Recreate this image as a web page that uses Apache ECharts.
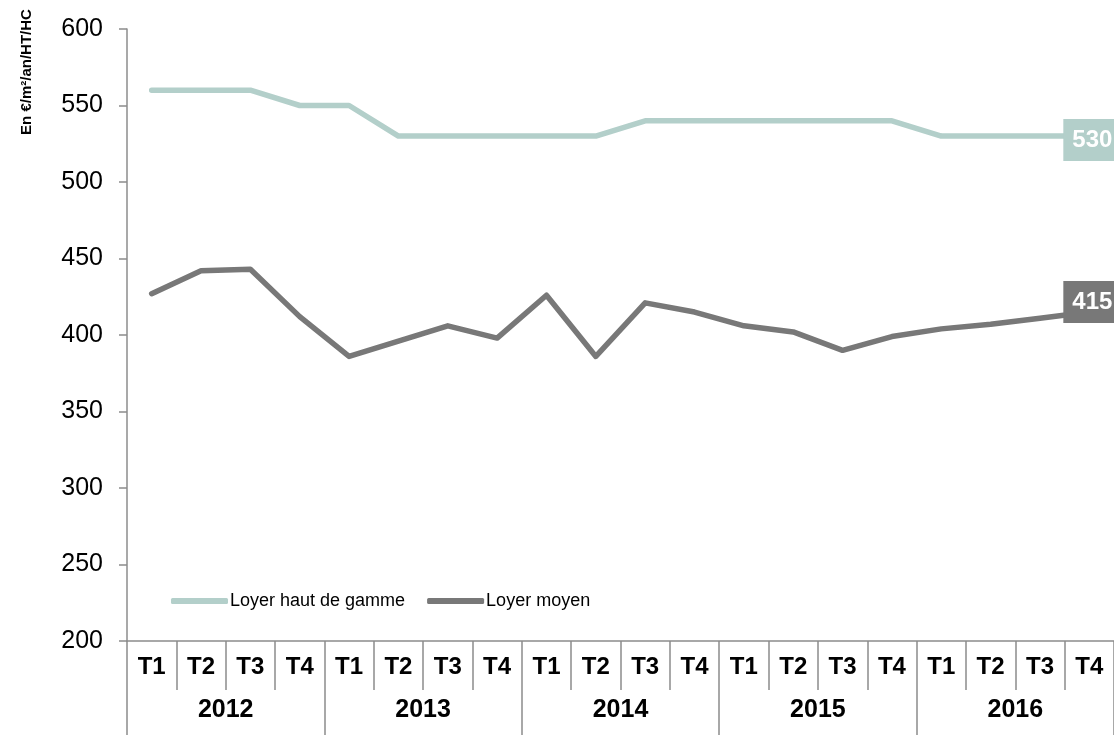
<!DOCTYPE html>
<html>
<head>
<meta charset="utf-8">
<script src="https://cdn.jsdelivr.net/npm/echarts@6/dist/echarts.min.js"></script>
<style>
  html, body { margin: 0; padding: 0; background: #fff; }
  #chart { width: 1114px; height: 735px; }
</style>
</head>
<body>
<div id="chart"></div>
<script>
// Quarterly office rents, 2012–2016
const quarters = ['T1', 'T2', 'T3', 'T4'];
const years = ['2012', '2013', '2014', '2015', '2016'];
const quarterLabels = years.flatMap(() => quarters);

const loyerHautDeGamme = [560, 560, 560, 550, 550, 530, 530, 530, 530, 530,
                          540, 540, 540, 540, 540, 540, 530, 530, 530, 530];
const loyerMoyen = [427, 442, 443, 412, 386, 396, 406, 398, 426, 386,
                    421, 415, 406, 402, 390, 399, 404, 407, 411, 415];

const yTicks = { min: 200, max: 600, step: 50 };

const FONT = "'Liberation Sans', Arial, sans-serif";
const AXIS_GREY = '#8c8c8c';
const COLOR_HAUT = '#b3cfca';
const COLOR_MOYEN = '#787878';

const chart = echarts.init(document.getElementById('chart'), null, { renderer: 'canvas' });

function endLabel(color, offset) {
  return {
    show: true,
    formatter: p => String(p.value),
    color: '#fff',
    fontFamily: FONT,
    fontWeight: 'bold',
    fontSize: 24,
    backgroundColor: color,
    padding: [10, 9, 8, 9],
    distance: 0,
    offset: offset
  };
}

chart.setOption({
  animation: false,
  textStyle: { fontFamily: FONT },
  grid: { left: 127, top: 29, width: 995, height: 612, containLabel: false },
  legend: {
    left: 166,
    top: 587,
    icon: 'roundRect',
    itemWidth: 57,
    itemHeight: 6,
    itemGap: 22,
    textStyle: { fontFamily: FONT, fontSize: 18, color: '#000', padding: [0, 0, 0, -3] },
    data: ['Loyer haut de gamme', 'Loyer moyen']
  },
  graphic: [{
    type: 'text',
    x: 27,
    y: 72,
    rotation: Math.PI / 2,
    style: {
      text: 'En €/m²/an/HT/HC',
      font: "bold 15px " + FONT,
      fill: '#000',
      align: 'center',
      verticalAlign: 'middle'
    }
  }],
  xAxis: [{
    type: 'category',
    data: quarterLabels,
    boundaryGap: true,
    position: 'bottom',
    axisLine: { lineStyle: { color: AXIS_GREY, width: 1.5 } },
    axisTick: { show: true, interval: 0, length: 49, lineStyle: { color: AXIS_GREY, width: 1.5 } },
    axisLabel: { interval: 0, margin: 14, color: '#000', fontSize: 24, fontWeight: 'bold', fontFamily: FONT }
  }, {
    type: 'category',
    data: years,
    boundaryGap: true,
    position: 'bottom',
    axisLine: { show: false },
    axisTick: { show: true, interval: 0, length: 94, lineStyle: { color: AXIS_GREY, width: 1.5 } },
    axisLabel: { interval: 0, margin: 57, color: '#000', fontSize: 25, fontWeight: 'bold', fontFamily: FONT }
  }],
  yAxis: {
    type: 'value',
    min: yTicks.min,
    max: yTicks.max,
    interval: yTicks.step,
    axisLine: { show: true, lineStyle: { color: AXIS_GREY, width: 1.5 } },
    axisTick: { show: true, length: 8, lineStyle: { color: AXIS_GREY, width: 1.5 } },
    splitLine: { show: false },
    axisLabel: { margin: 24, color: '#000', fontSize: 25, fontFamily: FONT }
  },
  series: [{
    name: 'Loyer haut de gamme',
    type: 'line',
    xAxisIndex: 0,
    data: loyerHautDeGamme,
    symbol: 'none',
    color: COLOR_HAUT,
    lineStyle: { width: 5.5, color: COLOR_HAUT, cap: 'round', join: 'round' },
    endLabel: endLabel(COLOR_HAUT, [-26, 4])
  }, {
    name: 'Loyer moyen',
    type: 'line',
    xAxisIndex: 0,
    data: loyerMoyen,
    symbol: 'none',
    color: COLOR_MOYEN,
    lineStyle: { width: 5.5, color: COLOR_MOYEN, cap: 'round', join: 'round' },
    endLabel: endLabel(COLOR_MOYEN, [-26, -10])
  }]
});
</script>
</body>
</html>
